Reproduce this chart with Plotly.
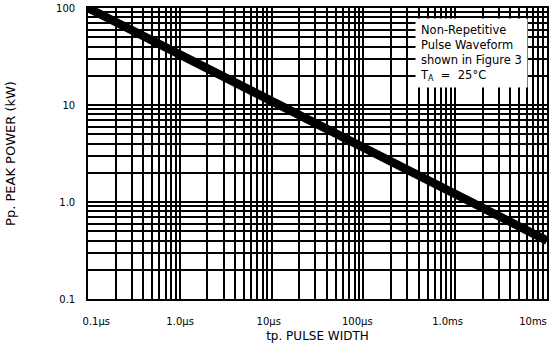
import plotly.graph_objects as go

# Data (pulse width in seconds, peak power in kW)
pulse_width_s = [1e-7, 1e-2]
peak_power_kw = [100, 0.4]

NB = "\u00a0"
x_major_vals = [1e-7, 1e-6, 1e-5, 1e-4, 1e-3, 1e-2]
x_major_text = [NB * 14 + "0.1\u00b5s", NB * 9 + "1.0\u00b5s", NB * 7 + "10\u00b5s",
                NB * 5 + "100\u00b5s", NB * 4 + "1.0ms", "10ms"]
y_major_vals = [0.1, 1.0, 10, 100]
y_major_text = ["0.1", "1.0", "10", "100"]

def log_ticks(major_vals, major_text):
    vals, text = [], []
    for i, v in enumerate(major_vals):
        vals.append(v)
        text.append(major_text[i])
        if i < len(major_vals) - 1:
            for m in range(2, 10):
                vals.append(v * m)
                text.append("")
    return vals, text

xv, xt = log_ticks(x_major_vals, x_major_text)
yv, yt = log_ticks(y_major_vals, y_major_text)

fig = go.Figure()
fig.add_trace(go.Scatter(x=pulse_width_s, y=peak_power_kw, mode="lines",
                         line=dict(color="black", width=8.5), showlegend=False))

font = dict(family="DejaVu Sans, Liberation Sans, sans-serif", color="black")

fig.update_layout(
    width=549, height=348,
    margin=dict(l=88, r=2, t=8, b=49),
    paper_bgcolor="white", plot_bgcolor="white",
    font=dict(**font, size=10),
    xaxis=dict(type="log", range=[-7, -2], tickvals=xv, ticktext=xt,
               automargin=False,
               showgrid=True, gridcolor="black", gridwidth=1.5,
               showline=True, linecolor="black", linewidth=1.6, mirror=True,
               ticks="", ticklabelstandoff=12, ticklabelshift=-14, zeroline=False,
               tickfont=dict(size=10),
               title=dict(text="tp. PULSE WIDTH", font=dict(size=12), standoff=6)),
    yaxis=dict(type="log", range=[-1, 2], tickvals=yv, ticktext=yt,
               automargin=False,
               showgrid=True, gridcolor="black", gridwidth=1.5,
               showline=True, linecolor="black", linewidth=1.6, mirror=True,
               ticks="", ticklabelstandoff=9, zeroline=False,
               tickfont=dict(size=10),
               title=dict(text="Pp. PEAK POWER (kW)", font=dict(size=13), standoff=38)),
    annotations=[dict(
        xref="paper", yref="paper", x=0.712, y=0.9656, xanchor="left", yanchor="top",
        text="Non-Repetitive<br>Pulse Waveform<br>shown in Figure 3<br>T<sub>A</sub>  =  25\u00b0C",
        align="left", showarrow=False, bgcolor="white", borderpad=4, width=103,
        font=dict(**font, size=11.5))],
)

fig.write_html("out.html", config={"displayModeBar": False},
               post_script="document.body.style.margin='0px';document.body.style.overflow='hidden';")
